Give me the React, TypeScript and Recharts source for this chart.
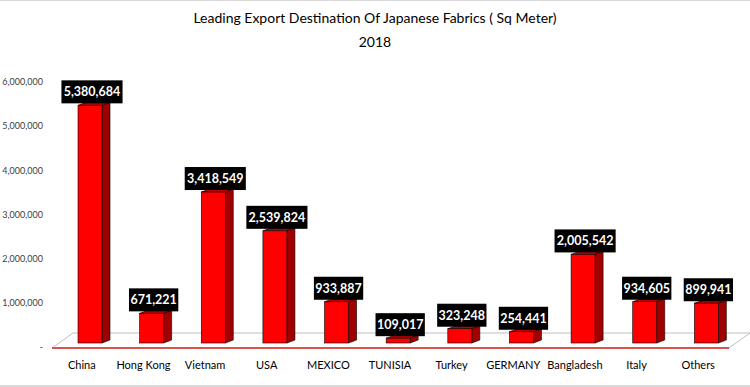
import React from 'react';
import { BarChart, Bar, XAxis, YAxis, LabelList, useOffset, useChartWidth, useChartHeight } from 'recharts';

const countries = ['China', 'Hong Kong', 'Vietnam', 'USA', 'MEXICO', 'TUNISIA', 'Turkey', 'GERMANY', 'Bangladesh', 'Italy', 'Others'];
const sqMeters = [5380684, 671221, 3418549, 2539824, 933887, 109017, 323248, 254441, 2005542, 934605, 899941];
const yTicks = [0, 1000000, 2000000, 3000000, 4000000, 5000000, 6000000];

const data = countries.map((name, i) => ({ name, value: sqMeters[i] }));

const FONT = 'Lato, "Open Sans", sans-serif';
const DX = 8;
const DY = -3;

const fmt = (v: number) => v.toLocaleString('en-US');

// 3D-ish column: front face + dark side + top
const Bar3D = (props: any) => {
    const { x, y, width, height } = props;
    if (width == null || height == null) return null;
    return (
        <g>
            <polygon
                points={`${x},${y} ${x + DX},${y + DY} ${x + width + DX},${y + DY} ${x + width},${y}`}
                fill="#c00000"
                stroke="#000"
                strokeWidth={0.6}
            />
            <polygon
                points={`${x + width},${y} ${x + width + DX},${y + DY} ${x + width + DX},${y + height + DY} ${x + width},${y + height}`}
                fill="#a00000"
                stroke="#000"
                strokeWidth={0.6}
            />
            <rect x={x} y={y} width={width} height={height} fill="#ff0000" stroke="#000" strokeWidth={0.6} />
        </g>
    );
};

const ValueBox = (props: any) => {
    const { x, y, width, value } = props;
    const text = fmt(value);
    const w = text.length * 5.9 + 8;
    const cx = x + width / 2 + 2;
    return (
        <g>
            <rect x={cx - w / 2} y={y - 25} width={w} height={23} fill="#000" />
            <text
                x={cx}
                y={y - 13.5}
                textAnchor="middle"
                dominantBaseline="central"
                fill="#fff"
                fontFamily={FONT}
                fontWeight={700}
                fontSize={12.5}
            >
                {text}
            </text>
        </g>
    );
};

// floor platform under the columns
const Floor = () => {
    const offset: any = useOffset();
    const cw: any = useChartWidth();
    const ch: any = useChartHeight();
    if (!offset || !cw || !ch) return null;
    const left = offset.left;
    const right = cw - offset.right;
    const base = ch - offset.bottom;
    const fl = left - 7;
    const fr = right - 8;
    const fy = base + 5;
    const bx = 21;
    const by = -15;
    return (
        <g>
            <polygon
                points={`${fl},${fy} ${fl + bx},${fy + by} ${fr + bx},${fy + by} ${fr},${fy}`}
                fill="#fff"
                stroke="#bfbfbf"
                strokeWidth={1}
            />
            <line x1={fl} y1={fy} x2={fr} y2={fy} stroke="#d9534f" strokeWidth={2} />
        </g>
    );
};

export default function App() {
    return (
        <div
            style={{
                position: 'absolute',
                left: 0,
                top: 0,
                width: 750,
                height: 387,
                background: '#fff',
                borderTop: '1px solid #d9d9d9',
                borderBottom: '2px solid #d9d9d9',
                boxSizing: 'border-box',
                fontFamily: FONT,
            }}
        >
            <div style={{ position: 'absolute', top: 7, width: 750, textAlign: 'center', fontSize: 14, color: '#000', lineHeight: '20px' }}>
                Leading Export Destination Of Japanese Fabrics ( Sq Meter)
            </div>
            <div style={{ position: 'absolute', top: 31, width: 750, textAlign: 'center', fontSize: 14, color: '#000', lineHeight: '20px' }}>
                2018
            </div>
            <div style={{ position: 'absolute', left: 0, top: -1 }}>
                <BarChart
                    width={750}
                    height={387}
                    data={data}
                    margin={{ top: 78, right: 13, bottom: 14, left: 9 }}
                    barCategoryGap={0}
                >
                    <Floor />
                    <XAxis
                        dataKey="name"
                        height={30}
                        tickLine={false}
                        axisLine={false}
                        interval={0}
                        tickMargin={12}
                        tick={{ fontSize: 11, fill: '#000', fontFamily: FONT, dx: -8 }}
                    />
                    <YAxis
                        width={50}
                        domain={[0, 6000000]}
                        ticks={yTicks}
                        tickLine={false}
                        axisLine={false}
                        tickMargin={10}
                        tickFormatter={(v: number) => (v === 0 ? '-' : fmt(v))}
                        tick={{ fontSize: 9, fill: '#404040', fontFamily: FONT, dy: 4 }}
                    />
                    <Bar dataKey="value" barSize={24} shape={Bar3D} isAnimationActive={false}>
                        <LabelList dataKey="value" content={ValueBox} />
                    </Bar>
                </BarChart>
            </div>
        </div>
    );
}
